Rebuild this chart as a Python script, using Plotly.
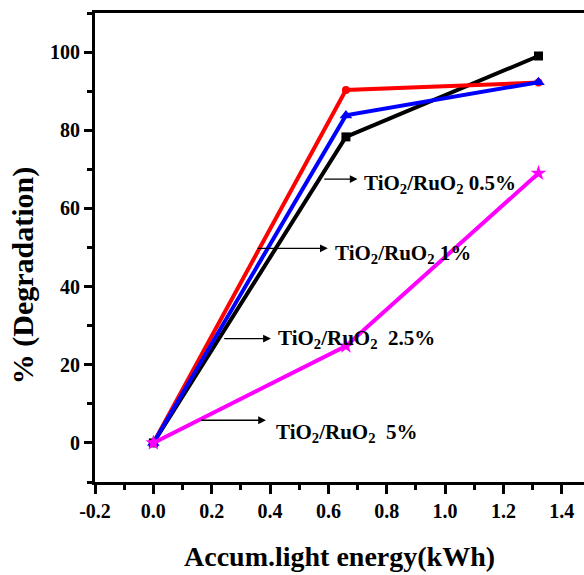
import plotly.graph_objects as go

# ---- data ----
energy = [0.0, 0.66, 1.32]
deg_05 = [0.0, 78.3, 99.0]     # black, squares
deg_1 = [0.0, 90.3, 92.2]      # red, circles
deg_25 = [0.0, 83.8, 92.3]     # blue, triangles
deg_5 = [0.0, 24.8, 69.0]      # magenta, stars

series_names = ["TiO2/RuO2 0.5%", "TiO2/RuO2 1%", "TiO2/RuO2 2.5%", "TiO2/RuO2 5%"]
series_colors = ["#000000", "#ff0000", "#0000ff", "#ff00ff"]
series_symbols = ["square", "circle", "triangle-up", "star"]
series_sizes = [9, 8, 11, 12]

x_tickvals = [-0.2, 0.0, 0.2, 0.4, 0.6, 0.8, 1.0, 1.2, 1.4]
x_ticktext = ["-0.2", "0.0", "0.2", "0.4", "0.6", "0.8", "1.0", "1.2", "1.4"]
y_tickvals = [0, 20, 40, 60, 80, 100]

# label annotations: (arrow tail x, arrow head x, arrow y, text x, text y, text)
labels = [
    (0.581, 0.700, 67.5, 0.716, 66.3, "TiO<sub>2</sub>/RuO<sub>2</sub> 0.5%"),
    (0.352, 0.598, 49.8, 0.614, 48.3, "TiO<sub>2</sub>/RuO<sub>2</sub> 1%"),
    (0.238, 0.403, 26.7, 0.421, 26.6, "TiO<sub>2</sub>/RuO<sub>2</sub>&nbsp; 2.5%"),
    (0.158, 0.386, 5.8, 0.415, 2.5, "TiO<sub>2</sub>/RuO<sub>2</sub>&nbsp; 5%"),
]

FONT = "Liberation Serif, Times New Roman, serif"

fig = go.Figure()
for ys, name, col, sym, sz in zip([deg_05, deg_1, deg_25, deg_5], series_names,
                                  series_colors, series_symbols, series_sizes):
    fig.add_trace(go.Scatter(
        x=energy, y=ys, mode="lines+markers", name=name,
        line=dict(color=col, width=4),
        marker=dict(symbol=sym, size=sz, color=col),
        showlegend=False,
    ))

for tx, hx, ay, txx, txy, txt in labels:
    fig.add_annotation(x=hx, y=ay, ax=tx, ay=ay, xref="x", yref="y",
                       axref="x", ayref="y", text="", showarrow=True,
                       arrowhead=2, arrowsize=1.2, arrowwidth=1.3,
                       arrowcolor="#000000")
    fig.add_annotation(x=txx, y=txy, xref="x", yref="y", text=txt,
                       showarrow=False, xanchor="left", yanchor="middle",
                       font=dict(family=FONT, size=21, color="#000000", weight="bold"))

# axis titles
fig.add_annotation(x=0.5, y=-0.158, xref="paper", yref="paper",
                   xanchor="center", yanchor="middle", showarrow=False,
                   text="Accum.light energy(kWh)",
                   font=dict(family=FONT, size=28, color="#000000", weight="bold"))
fig.add_annotation(x=-0.148, y=0.44, xref="paper", yref="paper",
                   xanchor="center", yanchor="middle", showarrow=False,
                   textangle=-90, text="% (Degradation)",
                   font=dict(family=FONT, size=30, color="#000000", weight="bold"))

fig.update_xaxes(
    range=[-0.2, 1.476], showgrid=False, zeroline=False,
    showline=True, linecolor="#000000", linewidth=3, mirror=True,
    tickmode="array", tickvals=x_tickvals, ticktext=x_ticktext,
    ticks="outside", ticklen=9, tickwidth=3, tickcolor="#000000",
    tickfont=dict(family=FONT, size=20, color="#000000", weight="bold"),
    minor=dict(dtick=0.1, tick0=-0.2, ticks="outside", ticklen=5,
               tickwidth=3, tickcolor="#000000", showgrid=False),
)
fig.update_yaxes(
    range=[-10, 110], showgrid=False, zeroline=False,
    showline=True, linecolor="#000000", linewidth=3, mirror=False,
    tickmode="array", tickvals=y_tickvals,
    ticks="outside", ticklen=8, tickwidth=3, tickcolor="#000000",
    tickfont=dict(family=FONT, size=20, color="#000000", weight="bold"),
    minor=dict(dtick=10, tick0=-10, ticks="outside", ticklen=5,
               tickwidth=3, tickcolor="#000000", showgrid=False),
)

fig.update_layout(
    width=584, height=575,
    margin=dict(l=95, r=0, t=13, b=93, pad=0),
    paper_bgcolor="white", plot_bgcolor="white",
)

fig.write_html("out.html")
